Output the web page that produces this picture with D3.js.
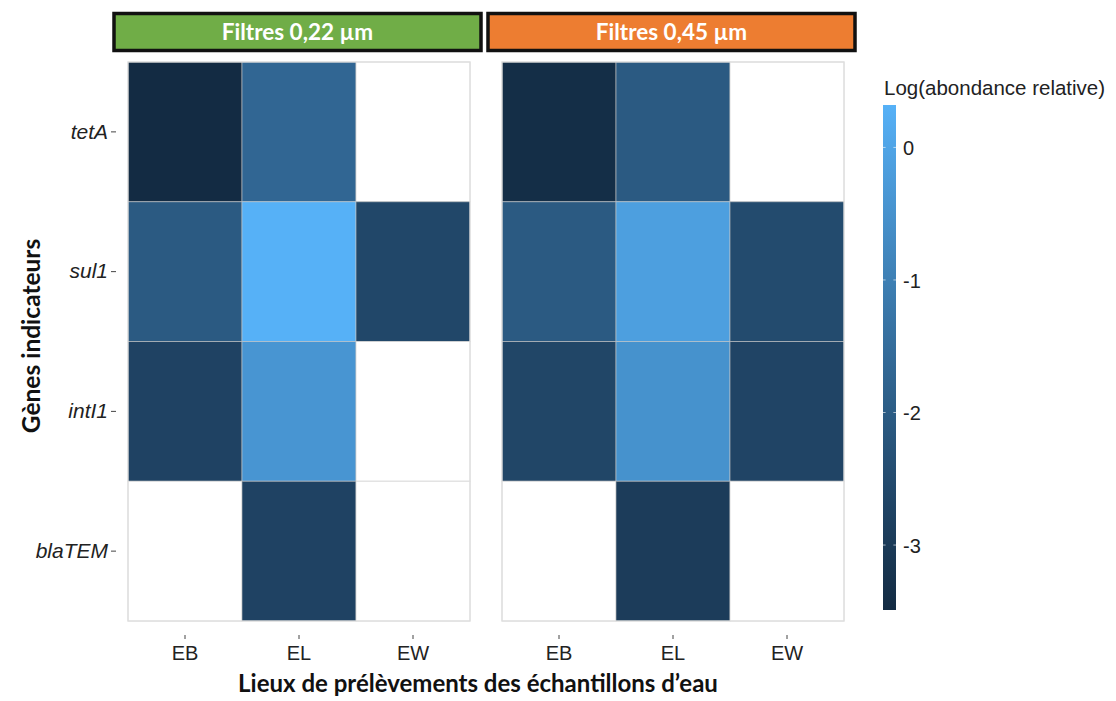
<!DOCTYPE html>
<html><head><meta charset="utf-8">
<script src="https://cdn.jsdelivr.net/npm/d3@7"></script>
<style>body{margin:0;background:#fff}</style>
</head><body>
<svg id="c" width="1116" height="701"></svg>
<script>
const sites = ["EB","EL","EW"];
const genes = ["tetA","sul1","intI1","blaTEM"];
const facets = ["Filtres 0,22 µm","Filtres 0,45 µm"];
const facetColors = ["#70AD47","#ED7D31"];
// values per facet, rows = genes, cols = sites (null = absent)
const values022 = [
  [-3.49, -1.70, null],
  [-2.05,  0.32, -2.60],
  [-2.75, -0.40, null],
  [null,  -2.75, null]
];
const values045 = [
  [-3.40, -2.05, null],
  [-2.05, -0.15, -2.50],
  [-2.65, -0.50, -2.70],
  [null,  -2.95, null]
];
const legendTicks = [0,-1,-2,-3];
const legendDomain = [-3.49, 0.32];

(function(){
const svg = d3.select("#c");
const color = d3.scaleLinear().domain(legendDomain).range(["#132B43","#56B1F7"]).interpolate(d3.interpolateLab);
const sansAx = "Arial, 'Liberation Sans', sans-serif";
const sansTi = "Lato, 'Open Sans', sans-serif";

const panelX = [128, 502], panelW = 342, pTop = 62, pBottom = 621;
const y = d3.scaleBand().domain(genes).range([pTop, pBottom]);
const allVals = [values022, values045];

facets.forEach((f, fi) => {
  const x = d3.scaleBand().domain(sites).range([panelX[fi], panelX[fi] + panelW]);
  const g = svg.append("g");
  const cells = [];
  genes.forEach((gn, ri) => sites.forEach((s, ci) => cells.push({g: gn, s, v: allVals[fi][ri][ci]})));
  g.selectAll("rect.cell").data(cells).enter().append("rect")
    .attr("x", d => x(d.s)).attr("y", d => y(d.g))
    .attr("width", x.bandwidth()).attr("height", y.bandwidth())
    .attr("fill", d => d.v == null ? "#ffffff" : color(d.v))
    .attr("stroke", "#c8c8c8").attr("stroke-opacity", 0.6).attr("stroke-width", 1);
  g.append("rect").attr("x", panelX[fi]).attr("y", pTop).attr("width", panelW).attr("height", pBottom - pTop)
    .attr("fill", "none").attr("stroke", "#dedede").attr("stroke-width", 1.2);
  const xa = svg.append("g").attr("transform", `translate(0,${pBottom + 14})`)
    .call(d3.axisBottom(x).tickSize(4).tickPadding(7));
  xa.select(".domain").remove();
  xa.selectAll("line").attr("stroke", "#444");
  xa.selectAll("text").attr("font-family", sansAx).attr("font-size", 20).attr("fill", "#222");
  const sx0 = panelX[fi] - 14, sw = panelW + 25;
  svg.append("rect").attr("x", sx0).attr("y", 13.5).attr("width", sw).attr("height", 37)
    .attr("fill", facetColors[fi]).attr("stroke", "#111").attr("stroke-width", 3.5);
  svg.append("text").attr("x", sx0 + sw / 2).attr("y", 39.5).attr("text-anchor", "middle")
    .attr("font-family", sansTi).attr("font-weight", "bold").attr("font-size", 22.5)
    .attr("fill", "#fff").text(f);
});

const ya = svg.append("g").attr("transform", `translate(${panelX[0] - 12},0)`)
  .call(d3.axisLeft(y).tickSize(5).tickPadding(3));
ya.select(".domain").remove();
ya.selectAll("line").attr("stroke", "#444");
ya.selectAll("text").attr("font-family", sansAx).attr("font-size", 21)
  .attr("font-style", "italic").attr("fill", "#222");

svg.append("text").attr("transform", "translate(40,336) rotate(-90)").attr("text-anchor", "middle")
  .attr("font-family", sansTi).attr("font-weight", "bold").attr("font-size", 24.5)
  .attr("fill", "#111").text("Gènes indicateurs");
svg.append("text").attr("x", 478).attr("y", 692).attr("text-anchor", "middle")
  .attr("font-family", sansTi).attr("font-weight", "bold").attr("font-size", 24)
  .attr("fill", "#111").text("Lieux de prélèvements des échantillons d’eau");

const lx = 883, ly0 = 105, ly1 = 610, lw = 13;
const ls = d3.scaleLinear().domain(legendDomain).range([ly1, ly0]);
const defs = svg.append("defs");
const grad = defs.append("linearGradient").attr("id", "lg").attr("x1", 0).attr("x2", 0).attr("y1", 1).attr("y2", 0);
d3.range(0, 1.0001, 0.1).forEach(t => {
  const v = legendDomain[0] + t * (legendDomain[1] - legendDomain[0]);
  grad.append("stop").attr("offset", t).attr("stop-color", color(v));
});
svg.append("rect").attr("x", lx).attr("y", ly0).attr("width", lw).attr("height", ly1 - ly0).attr("fill", "url(#lg)");
svg.selectAll("line.lt").data(legendTicks).enter().append("line")
  .attr("x1", lx).attr("x2", lx + 2.6).attr("y1", d => ls(d)).attr("y2", d => ls(d)).attr("stroke", "#fff").attr("stroke-opacity", 0.6);
svg.selectAll("line.lt2").data(legendTicks).enter().append("line")
  .attr("x1", lx + lw - 2.6).attr("x2", lx + lw).attr("y1", d => ls(d)).attr("y2", d => ls(d)).attr("stroke", "#fff").attr("stroke-opacity", 0.6);
svg.selectAll("text.lt").data(legendTicks).enter().append("text")
  .attr("x", lx + 20).attr("y", d => ls(d)).attr("dy", "0.38em")
  .attr("font-family", sansAx).attr("font-size", 20).attr("fill", "#222")
  .text(d => d === 0 ? "0" : "-" + Math.abs(d));
svg.append("text").attr("x", lx + 1).attr("y", 95)
  .attr("font-family", sansAx).attr("font-size", 20.5).attr("fill", "#222")
  .text("Log(abondance relative)");
})();
</script>
</body></html>
